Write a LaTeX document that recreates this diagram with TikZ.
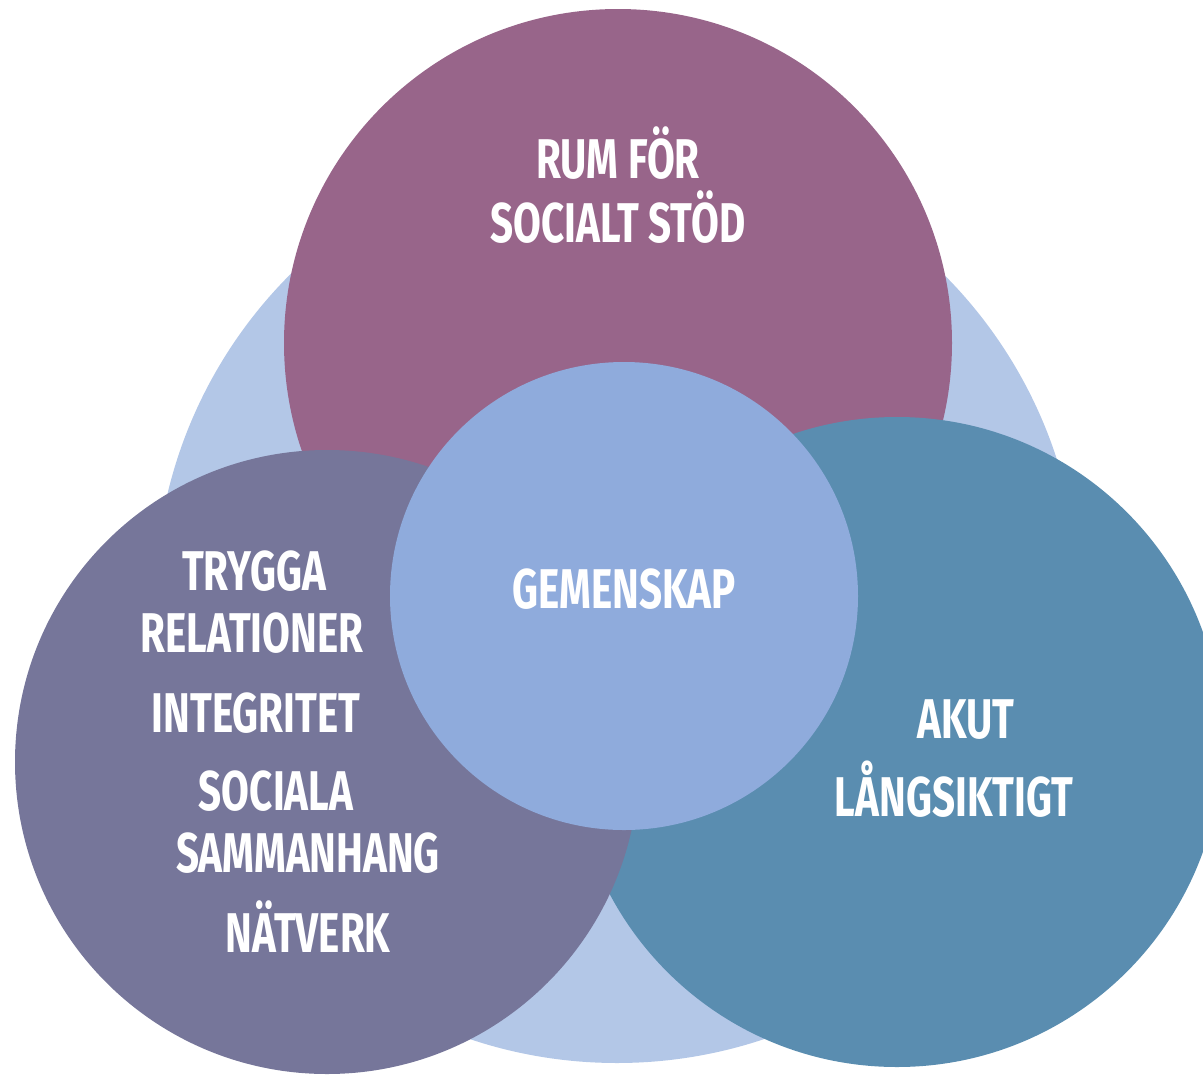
\documentclass[tikz,border=0pt]{standalone}
\usepackage{fontspec}
\newfontfamily\venfont{Fira Sans}[FakeStretch=0.72]
\definecolor{bgblue}{HTML}{B3C7E7}
\definecolor{rumpurple}{HTML}{98658A}
\definecolor{tryggagrey}{HTML}{76769A}
\definecolor{akutblue}{HTML}{5A8DB0}
\definecolor{gemblue}{HTML}{8FABDC}
\tikzset{
  lbl/.style={text=white,anchor=base,inner sep=0pt,
    font=\venfont\bfseries\fontsize{56}{64}\selectfont}
}
\begin{document}
\begin{tikzpicture}[x=1pt,y=-1pt]
\useasboundingbox (0,0) rectangle (1203,1077);
% circles
\fill[bgblue] (617,601) circle (462);
\fill[rumpurple] (618,343) circle (334);
\fill[akutblue] (897,742) circle (325);
\fill[tryggagrey] (327,762) circle (312);
\fill[gemblue] (624,596) circle (234);
% top
\node[lbl] (rum) at (618,178) {RUM FÖR};
\node[lbl] (stod) at (618,242) {SOCIALT STÖD};
% left
\node[lbl] (trygga) at (254,590) {TRYGGA};
\node[lbl] (relationer) at (252,652) {RELATIONER};
\node[lbl] (integritet) at (256,732) {INTEGRITET};
\node[lbl] (sociala) at (276,810) {SOCIALA};
\node[lbl] (sammanhang) at (308,872) {SAMMANHANG};
\node[lbl] (natverk) at (308,952) {NÄTVERK};
% middle
\node[lbl] (gemenskap) at (624,608) {GEMENSKAP};
% right
\node[lbl] (akut) at (966,738) {AKUT};
\node[lbl] (langsiktigt) at (954,816) {LÅNGSIKTIGT};
\end{tikzpicture}
\end{document}
